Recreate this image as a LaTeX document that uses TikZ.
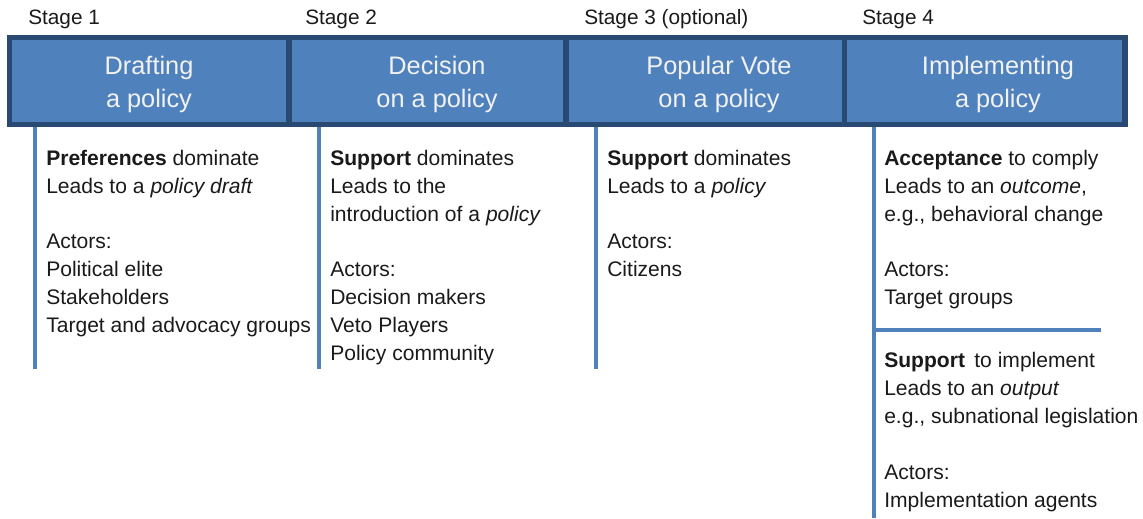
\documentclass[tikz,border=0pt]{standalone}
\usepackage{fontspec}
\setmainfont{Liberation Sans}
\definecolor{boxblue}{HTML}{4F81BD}
\definecolor{darkrim}{HTML}{284A72}
\definecolor{bodytext}{HTML}{1A1A1A}
\begin{document}
\begin{tikzpicture}[x=0.75pt,y=-0.75pt,
  stagebox/.style={fill=boxblue,draw=none},
  headtext/.style={text=white!95!black,font=\fontsize{19}{25}\selectfont,anchor=base,inner sep=0pt},
  stagelabel/.style={text=bodytext,font=\fontsize{15.6}{21}\selectfont,anchor=base west,inner sep=0pt},
  line/.style={text=bodytext,font=\fontsize{15.8}{21}\selectfont,anchor=base west,inner sep=0pt},
  rule/.style={draw=boxblue,line width=2.4pt}]
\useasboundingbox (0,0) rectangle (1143,518);
% header bar
\fill[darkrim] (7,35) rectangle (1128,127);
\fill[stagebox] (12,40) rectangle (286,122);
\fill[stagebox] (292,40) rectangle (563,122);
\fill[stagebox] (569,40) rectangle (842,122);
\fill[stagebox] (847,40) rectangle (1122,122);
% stage labels
\node[stagelabel] (s1) at (28,24) {Stage 1};
\node[stagelabel] (s2) at (305,24) {Stage 2};
\node[stagelabel] (s3) at (584,24) {Stage 3 (optional)};
\node[stagelabel] (s4) at (862,24) {Stage 4};
% header texts
\node[headtext] (h1a) at (149,74) {Drafting};
\node[headtext] (h1b) at (149,107) {a policy};
\node[headtext] (h2a) at (437,74) {Decision};
\node[headtext] (h2b) at (437,107) {on a policy};
\node[headtext] (h3a) at (719,74) {Popular Vote};
\node[headtext] (h3b) at (719,107) {on a policy};
\node[headtext] (h4a) at (998,74) {Implementing};
\node[headtext] (h4b) at (998,107) {a policy};
% rules
\coordinate (r1t) at (35,127); \coordinate (r1b) at (35,369);
\coordinate (r2t) at (319,127); \coordinate (r2b) at (319,369);
\coordinate (r3t) at (596,127); \coordinate (r3b) at (596,369);
\coordinate (r4t) at (874,127); \coordinate (r4b) at (874,518);
\coordinate (hl) at (874,330); \coordinate (hr) at (1101,330);
\draw[rule] (r1t) -- (r1b);
\draw[rule] (r2t) -- (r2b);
\draw[rule] (r3t) -- (r3b);
\draw[rule] (r4t) -- (r4b);
\draw[rule] (hl) -- (hr);
% column 1
\node[line] (c1a) at (46,165) {\textbf{Preferences} dominate};
\node[line] (c1b) at (46,193) {Leads to a \textit{policy draft}};
\node[line] (c1c) at (46,248) {Actors:};
\node[line] (c1d) at (46,276) {Political elite};
\node[line] (c1e) at (46,304) {Stakeholders};
\node[line] (c1f) at (46,332) {Target and advocacy groups};
% column 2
\node[line] (c2a) at (330,165) {\textbf{Support} dominates};
\node[line] (c2b) at (330,193) {Leads to the};
\node[line] (c2c) at (330,221) {introduction of a \textit{policy}};
\node[line] (c2d) at (330,276) {Actors:};
\node[line] (c2e) at (330,304) {Decision makers};
\node[line] (c2f) at (330,332) {Veto Players};
\node[line] (c2g) at (330,360) {Policy community};
% column 3
\node[line] (c3a) at (607,165) {\textbf{Support} dominates};
\node[line] (c3b) at (607,193) {Leads to a \textit{policy}};
\node[line] (c3c) at (607,248) {Actors:};
\node[line] (c3d) at (607,276) {Citizens};
% column 4
\node[line] (c4a) at (884,165) {\textbf{Acceptance} to comply};
\node[line] (c4b) at (884,193) {Leads to an \textit{outcome},};
\node[line] (c4c) at (884,221) {e.g., behavioral change};
\node[line] (c4d) at (884,276) {Actors:};
\node[line] (c4e) at (884,304) {Target groups};
\node[line] (c4f) at (884,367) {\textbf{Support}\, to implement};
\node[line] (c4g) at (884,395) {Leads to an \textit{output}};
\node[line] (c4h) at (884,423) {e.g., subnational legislation};
\node[line] (c4i) at (884,479) {Actors:};
\node[line] (c4j) at (884,507) {Implementation agents};
\end{tikzpicture}
\end{document}
